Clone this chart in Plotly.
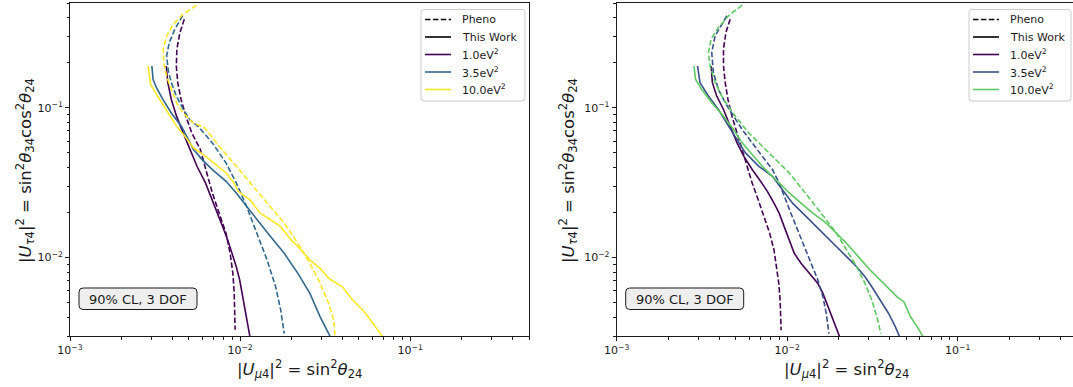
import math
import plotly.graph_objects as go

# ---------------- data: left panel ----------------
L1_pheno_x = [4.70e-3, 4.43e-3, 4.25e-3, 4.22e-3, 4.30e-3, 4.50e-3, 4.80e-3, 5.20e-3, 5.84e-3, 6.41e-3,
              6.87e-3, 7.54e-3, 8.27e-3, 8.74e-3, 9.07e-3, 9.24e-3, 9.33e-3, 9.35e-3]
L1_pheno_y = [0.39, 0.317, 0.246, 0.19, 0.147, 0.1135, 0.0877, 0.068, 0.0526, 0.0367,
              0.027, 0.0198, 0.01455, 0.01069, 0.00785, 0.00577, 0.00424, 0.0033]
L1_work_x = [3.68e-3, 3.76e-3, 3.94e-3, 4.23e-3, 4.63e-3, 5.08e-3, 5.58e-3, 6.26e-3, 6.87e-3, 7.37e-3,
             7.90e-3, 8.46e-3, 8.99e-3, 9.50e-3, 9.95e-3, 1.042e-2, 1.092e-2, 1.144e-2]
L1_work_y = [0.19, 0.147, 0.114, 0.0879, 0.068, 0.0526, 0.0407, 0.0315, 0.0243, 0.0198,
             0.0161, 0.01313, 0.01069, 0.0087, 0.00709, 0.00521, 0.00403, 0.00295]
L35_pheno_x = [4.60e-3, 4.13e-3, 3.83e-3, 3.70e-3, 3.78e-3, 3.95e-3, 4.23e-3, 4.65e-3, 5.06e-3, 5.70e-3,
               6.87e-3, 8.27e-3, 9.50e-3, 1.092e-2, 1.255e-2, 1.442e-2, 1.619e-2, 1.735e-2, 1.818e-2]
L35_pheno_y = [0.412, 0.333, 0.271, 0.222, 0.178, 0.146, 0.119, 0.097, 0.0832, 0.0745,
               0.0583, 0.0428, 0.0315, 0.022, 0.01455, 0.00965, 0.00639, 0.00446, 0.00311]
L35_work_x = [3.03e-3, 3.08e-3, 3.23e-3, 3.53e-3, 3.95e-3, 4.53e-3, 4.85e-3, 5.33e-3, 5.98e-3, 6.87e-3,
              8.27e-3, 9.50e-3, 1.092e-2, 1.255e-2, 1.51e-2, 1.818e-2, 2.188e-2, 2.574e-2, 2.957e-2, 3.40e-2]
L35_work_y = [0.19, 0.154, 0.1355, 0.113, 0.092, 0.075, 0.0646, 0.0526, 0.0451, 0.0387,
              0.0323, 0.027, 0.022, 0.0179, 0.01382, 0.01069, 0.00785, 0.00577, 0.00403, 0.00295]
L10_pheno_x = [5.54e-3, 4.62e-3, 4.04e-3, 3.70e-3, 3.53e-3, 3.56e-3, 3.70e-3, 3.95e-3, 4.23e-3, 4.62e-3,
               5.29e-3, 6.20e-3, 7.54e-3, 9.50e-3, 1.198e-2, 1.51e-2, 1.818e-2, 2.188e-2, 2.574e-2, 2.957e-2,
               3.32e-2, 3.559e-2, 3.61e-2]
L10_pheno_y = [0.482, 0.421, 0.36, 0.30, 0.245, 0.199, 0.162, 0.132, 0.108, 0.0926,
               0.0793, 0.0735, 0.0554, 0.0407, 0.0299, 0.022, 0.017, 0.01247, 0.00917, 0.00673,
               0.00494, 0.00382, 0.00303]
L10_work_x = [2.88e-3, 2.98e-3, 3.27e-3, 3.76e-3, 4.23e-3, 4.74e-3, 5.33e-3, 6.26e-3, 7.20e-3, 8.27e-3,
              9.07e-3, 9.73e-3, 1.144e-2, 1.314e-2, 1.51e-2, 1.735e-2, 1.994e-2, 2.239e-2, 2.574e-2, 2.957e-2,
              3.32e-2, 4.00e-2, 4.59e-2, 5.28e-2, 6.06e-2, 6.90e-2]
L10_work_y = [0.19, 0.143, 0.1197, 0.0926, 0.0754, 0.0646, 0.054, 0.0475, 0.0417, 0.0367,
              0.0323, 0.0277, 0.0243, 0.0198, 0.0179, 0.0161, 0.01313, 0.01155, 0.00965, 0.00849,
              0.00727, 0.00639, 0.00521, 0.00446, 0.00363, 0.00295]

# ---------------- data: right panel ----------------
R1_pheno_x = [4.63e-3, 4.37e-3, 4.23e-3, 4.23e-3, 4.33e-3, 4.49e-3, 4.74e-3, 5.08e-3, 5.44e-3, 5.82e-3,
              6.23e-3, 6.76e-3, 7.31e-3, 7.89e-3, 8.37e-3, 8.69e-3, 8.93e-3, 9.09e-3, 9.17e-3, 9.21e-3]
R1_pheno_y = [0.39, 0.318, 0.246, 0.19, 0.147, 0.114, 0.0879, 0.068, 0.0526, 0.0407,
              0.0315, 0.0243, 0.0188, 0.01455, 0.01125, 0.0087, 0.00673, 0.00521, 0.00403, 0.00328]
R1_work_x = [3.58e-3, 3.64e-3, 3.86e-3, 4.23e-3, 4.63e-3, 5.08e-3, 5.56e-3, 6.23e-3, 6.98e-3, 7.65e-3,
             8.37e-3, 8.97e-3, 9.60e-3, 1.028e-2, 1.100e-2, 1.205e-2, 1.351e-2, 1.513e-2, 1.620e-2, 1.734e-2,
             1.857e-2, 2.034e-2]
R1_work_y = [0.19, 0.147, 0.1197, 0.0974, 0.0754, 0.0583, 0.0475, 0.0387, 0.0323, 0.0277,
             0.0231, 0.0198, 0.0161, 0.01313, 0.01069, 0.00917, 0.00785, 0.00673, 0.00577, 0.0047,
             0.00382, 0.00295]
R35_pheno_x = [4.43e-3, 3.78e-3, 3.61e-3, 3.69e-3, 3.95e-3, 4.33e-3, 4.85e-3, 5.44e-3, 6.23e-3, 7.14e-3,
               8.19e-3, 8.97e-3, 9.60e-3, 1.051e-2, 1.151e-2, 1.261e-2, 1.382e-2, 1.513e-2, 1.620e-2, 1.695e-2,
               1.758e-2]
R35_pheno_y = [0.411, 0.302, 0.2335, 0.1716, 0.1327, 0.108, 0.0879, 0.0716, 0.0583, 0.0475,
               0.0387, 0.0315, 0.0256, 0.0198, 0.01532, 0.01185, 0.00917, 0.00709, 0.00548, 0.00424,
               0.00311]
R35_work_x = [2.98e-3, 3.08e-3, 3.45e-3, 3.95e-3, 4.53e-3, 5.08e-3, 5.69e-3, 6.82e-3, 8.19e-3, 9.38e-3,
              1.075e-2, 1.233e-2, 1.351e-2, 1.548e-2, 1.695e-2, 1.944e-2, 2.228e-2, 2.554e-2, 2.861e-2, 3.135e-2,
              3.511e-2, 3.934e-2, 4.310e-2, 4.573e-2]
R35_work_y = [0.19, 0.147, 0.1197, 0.0974, 0.0754, 0.0614, 0.05, 0.0407, 0.0349, 0.0284,
              0.0231, 0.0198, 0.0179, 0.01532, 0.01382, 0.01185, 0.01016, 0.0087, 0.00746, 0.00639,
              0.00521, 0.00424, 0.00345, 0.00295]
R10_pheno_x = [5.44e-3, 4.53e-3, 3.95e-3, 3.58e-3, 3.45e-3, 3.53e-3, 3.78e-3, 4.23e-3, 4.96e-3, 5.95e-3,
               7.14e-3, 8.57e-3, 1.028e-2, 1.233e-2, 1.479e-2, 1.695e-2, 1.944e-2, 2.228e-2, 2.554e-2, 2.861e-2,
               3.135e-2, 3.356e-2, 3.543e-2]
R10_pheno_y = [0.484, 0.411, 0.343, 0.287, 0.2335, 0.19, 0.147, 0.1137, 0.0879, 0.068,
               0.0554, 0.0451, 0.0367, 0.0284, 0.022, 0.0179, 0.01455, 0.01125, 0.0087, 0.00673,
               0.00521, 0.00403, 0.00311]
R10_work_x = [2.84e-3, 2.90e-3, 3.15e-3, 3.61e-3, 4.23e-3, 4.85e-3, 5.44e-3, 6.09e-3, 7.14e-3, 8.57e-3,
              1.028e-2, 1.205e-2, 1.413e-2, 1.695e-2, 1.944e-2, 2.228e-2, 2.612e-2, 3.064e-2, 3.675e-2, 4.41e-2,
              4.83e-2, 5.29e-2, 5.79e-2, 6.29e-2]
R10_work_y = [0.19, 0.155, 0.1327, 0.108, 0.0879, 0.0716, 0.0583, 0.05, 0.0407, 0.0331,
              0.027, 0.0231, 0.0198, 0.017, 0.01455, 0.01247, 0.01016, 0.00827, 0.00673, 0.00548,
              0.00508, 0.00403, 0.00345, 0.00295]

legend_labels = ["Pheno", "This Work", "1.0eV<sup>2</sup>", "3.5eV<sup>2</sup>", "10.0eV<sup>2</sup>"]
left_colors = ["#440154", "#31688e", "#fde725"]
right_colors = ["#440154", "#3b528b", "#5ec962"]
x_tickvals = [1e-3, 1e-2, 1e-1]
x_ticktext = ["10<sup>\u22123</sup>", "10<sup>\u22122</sup>", "10<sup>\u22121</sup>"]
y_tickvals = [1e-2, 1e-1]
y_ticktext = ["10<sup>\u22122</sup>", "10<sup>\u22121</sup>"]
x_minor = [m * 10.0 ** e for e in (-3, -2, -1) for m in range(2, 10) if m * 10.0 ** e <= 0.5]
y_minor = [m * 10.0 ** e for e in (-3, -2, -1) for m in range(2, 10) if 0.003 <= m * 10.0 ** e <= 0.5]
annot_text = "90% CL, 3 DOF"

left_sets = [(L1_pheno_x, L1_pheno_y, L1_work_x, L1_work_y),
             (L35_pheno_x, L35_pheno_y, L35_work_x, L35_work_y),
             (L10_pheno_x, L10_pheno_y, L10_work_x, L10_work_y)]
right_sets = [(R1_pheno_x, R1_pheno_y, R1_work_x, R1_work_y),
              (R35_pheno_x, R35_pheno_y, R35_work_x, R35_work_y),
              (R10_pheno_x, R10_pheno_y, R10_work_x, R10_work_y)]

# ---------------- geometry (pixels) ----------------
W, H = 1073, 387
FONT = "DejaVu Sans"
LW = 1.6
DASH = "5.5px,2.4px"
INK = "#1a1a1a"


def px(x):
    return x / W


def py(y):
    return 1 - y / H


def rounded_rect(x0, y0, x1, y1, r):
    rx, ry = r / W, r / H
    X0, X1, Y0, Y1 = px(x0), px(x1), py(y0), py(y1)
    return (f"M{X0 + rx},{Y0} L{X1 - rx},{Y0} Q{X1},{Y0} {X1},{Y0 - ry} "
            f"L{X1},{Y1 + ry} Q{X1},{Y1} {X1 - rx},{Y1} L{X0 + rx},{Y1} Q{X0},{Y1} {X0},{Y1 + ry} "
            f"L{X0},{Y0 - ry} Q{X0},{Y0} {X0 + rx},{Y0} Z")


fig = go.Figure()

for sets, colors, xa, ya in [(left_sets, left_colors, "x", "y"), (right_sets, right_colors, "x2", "y2")]:
    for (pxs, pys, wxs, wys), c in zip(sets, colors):
        fig.add_trace(go.Scatter(x=pxs, y=pys, mode="lines", line=dict(color=c, width=LW, dash=DASH),
                                 xaxis=xa, yaxis=ya, showlegend=False, hoverinfo="skip"))
        fig.add_trace(go.Scatter(x=wxs, y=wys, mode="lines", line=dict(color=c, width=LW),
                                 xaxis=xa, yaxis=ya, showlegend=False, hoverinfo="skip"))

ax_common = dict(type="log", showgrid=False, zeroline=False, showline=True, linecolor=INK, automargin=False,
                 linewidth=1, ticks="outside", ticklen=4, tickwidth=1, tickcolor=INK,
                 tickfont=dict(family=FONT, size=11, color=INK))
minor_x = dict(tickvals=x_minor, ticks="outside", ticklen=2.5, tickwidth=0.8, tickcolor=INK, showgrid=False)
minor_y = dict(tickvals=y_minor, ticks="outside", ticklen=2.5, tickwidth=0.8, tickcolor=INK, showgrid=False)

top_px, bot_px = 3, 336
ydom = [py(bot_px), py(top_px)]
left_dom = [px(70), px(529)]
right_dom = [px(616.7), 1.0]
right_xmax_log = -1 + (W - 957.7) / 170.5
yr = [math.log10(0.003), math.log10(0.5)]

fig.update_layout(
    template="none",
    width=W, height=H, margin=dict(l=0, r=0, t=0, b=0, pad=0, autoexpand=False),
    paper_bgcolor="white", plot_bgcolor="white", showlegend=False,
    font=dict(family=FONT, color=INK),
    xaxis=dict(ax_common, domain=left_dom, anchor="y", range=[-3, math.log10(0.5)], mirror=True,
               tickvals=x_tickvals, ticktext=x_ticktext, minor=minor_x),
    yaxis=dict(ax_common, domain=ydom, anchor="x", range=yr, mirror=True,
               tickvals=y_tickvals, ticktext=y_ticktext, minor=minor_y),
    xaxis2=dict(ax_common, domain=right_dom, anchor="y2", range=[-3, right_xmax_log], mirror=True,
                tickvals=x_tickvals, ticktext=x_ticktext, minor=minor_x),
    yaxis2=dict(ax_common, domain=ydom, anchor="x2", range=yr, mirror=False,
                tickvals=y_tickvals, ticktext=y_ticktext, minor=minor_y),
)

# axis titles (math-style italics as in the original)
xlab = ("|<i>U</i><sub><i>\u03bc</i>4</sub>|<sup>2</sup> = sin<sup>2</sup>"
        "<i>\u03b8</i><sub>24</sub>")
ylab = ("|<i>U</i><sub><i>\u03c4</i>4</sub>|<sup>2</sup> = sin<sup>2</sup><i>\u03b8</i><sub>34</sub>"
        "cos<sup>2</sup><i>\u03b8</i><sub>24</sub>")
for xc, yc_x in [((70 + 529) / 2, 25), ((616.7 + 1077) / 2, 568)]:
    fig.add_annotation(x=px(xc), y=py(369), xref="paper", yref="paper", text=xlab, showarrow=False,
                       font=dict(family=FONT, size=16.5, color=INK), xanchor="center", yanchor="middle")
    fig.add_annotation(x=px(yc_x), y=py(171), xref="paper", yref="paper", text=ylab, showarrow=False,
                       textangle=-90, font=dict(family=FONT, size=16.5, color=INK),
                       xanchor="center", yanchor="middle")

# "90% CL, 3 DOF" boxes
for x0 in (79, 625.7):
    fig.add_shape(type="path", path=rounded_rect(x0, 288, x0 + 118, 309.5, 4), xref="paper", yref="paper",
                  line=dict(color=INK, width=1), fillcolor="#eeeeee", layer="above")
    fig.add_annotation(x=px(x0 + 59), y=py(299), xref="paper", yref="paper", text=annot_text,
                       showarrow=False, font=dict(family=FONT, size=13, color=INK),
                       xanchor="center", yanchor="middle")

# legends (drawn manually to match the compact matplotlib layout)
row_y = [19.5, 37, 54.5, 72, 89.5]
for bx0, bx1, colors in [(421, 525, left_colors), (969, 1071, right_colors)]:
    fig.add_shape(type="path", path=rounded_rect(bx0, 9.5, bx1, 101, 3), xref="paper", yref="paper",
                  line=dict(color="#cccccc", width=1), fillcolor="rgba(255,255,255,0.85)", layer="above")
    styles = [("black", DASH), ("black", "solid")] + [(c, "solid") for c in colors]
    for (c, d), yy, lab in zip(styles, row_y, legend_labels):
        fig.add_shape(type="line", x0=px(bx0 + 4), x1=px(bx0 + 30), y0=py(yy), y1=py(yy),
                      xref="paper", yref="paper", line=dict(color=c, width=LW, dash=d), layer="above")
        fig.add_annotation(x=px(bx0 + 39), y=py(yy), xref="paper", yref="paper", text=lab,
                           showarrow=False, font=dict(family=FONT, size=11, color=INK),
                           xanchor="left", yanchor="middle")

fig.write_html("out.html", config={"displayModeBar": False},
               post_script="document.body.style.margin='0';"
                           "document.documentElement.style.overflow='hidden';")
